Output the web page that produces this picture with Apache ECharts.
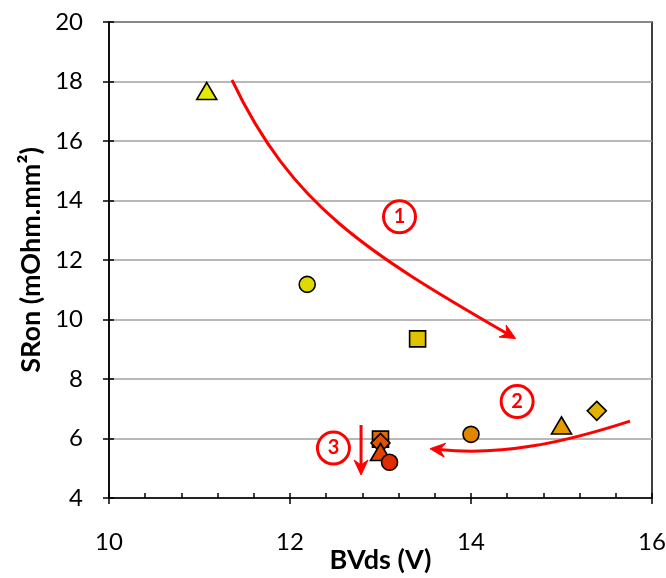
<!DOCTYPE html>
<html>
<head>
<meta charset="utf-8">
<script src="https://cdn.jsdelivr.net/npm/echarts@6/dist/echarts.min.js"></script>
<style>html,body{margin:0;padding:0;background:#fff}#c{width:666px;height:578px}</style>
</head>
<body>
<div id="c"></div>
<script>
// Data (BVds in V, SRon in mOhm.mm²)
const pointX = [11.08, 12.19, 13.41, 14.0, 15.0, 15.39, 13.0, 13.0, 13.0, 13.1];
const pointY = [17.68, 11.18, 9.35, 6.14, 6.44, 6.93, 5.98, 5.85, 5.55, 5.2];
const pointShape = ['triangle','circle','rect','circle','triangle','diamond','rect','diamond','triangle','circle'];
const pointColor = ['#E3EC00','#DEDA00','#E0C200','#E28600','#E49A00','#E2B200','#E06A00','#E05200','#E04400','#E02A00'];
const xTicks = [10, 12, 14, 16];
const yTicks = [4, 6, 8, 10, 12, 14, 16, 18, 20];
// Annotation arrows as cubic curves (start, control 1, control 2, end) in data units
const arrow1 = [[11.359,18.05],[12.022,13.815],[12.840,12.27],[14.464,9.41]];
const arrow2 = [[15.757,6.585],[15.021,5.859],[14.350,5.412],[13.580,5.647]];
const arrow3 = [[12.785,6.454],[12.785,6.0],[12.785,5.3],[12.785,4.874]];
const badgeText = ['1','2','3'];
const badgeX = [13.21, 14.51, 12.48];
const badgeY = [13.45, 7.24, 5.68];

const chart = echarts.init(document.getElementById('c'));
const FONT = 'Lato';
const RED = '#FF0000';
const sizeFor = s => s === 'triangle' ? [20,17] : s === 'diamond' ? 19 : 16;

function arrowSeries(a) {
  return {
    type:'custom', coordinateSystem:'cartesian2d', z:3, silent:true,
    data:[[a[0][0], a[0][1]]],
    renderItem: function(params, api) {
      const p = a.map(q => api.coord(q));
      const [p0,p1,p2,p3] = p;
      let dx = p3[0]-p2[0], dy = p3[1]-p2[1];
      const L = Math.hypot(dx,dy) || 1; dx/=L; dy/=L;
      const nx = -dy, ny = dx;
      const len = 15, hw = 7, notch = 10;
      const tip = [p3[0]+dx*3, p3[1]+dy*3];
      const back = [tip[0]-dx*len, tip[1]-dy*len];
      const mid = [tip[0]-dx*notch, tip[1]-dy*notch];
      const end = [tip[0]-dx*(notch-1), tip[1]-dy*(notch-1)];
      return {type:'group', children:[
        {type:'bezierCurve', shape:{x1:p0[0],y1:p0[1],cpx1:p1[0],cpy1:p1[1],cpx2:p2[0],cpy2:p2[1],x2:end[0],y2:end[1]},
          style:{stroke:RED, lineWidth:3, fill:null}},
        {type:'polygon', shape:{points:[tip,[back[0]+nx*hw, back[1]+ny*hw], mid, [back[0]-nx*hw, back[1]-ny*hw]]},
          style:{fill:RED, stroke:RED, lineWidth:1}}
      ]};
    }
  };
}

const series = [arrowSeries(arrow1), arrowSeries(arrow2), arrowSeries(arrow3)];
pointX.forEach((x,i) => {
  series.push({type:'scatter', z:5+i, data:[[x, pointY[i]]], symbol:pointShape[i],
    symbolSize:sizeFor(pointShape[i]),
    itemStyle:{color:pointColor[i], borderColor:'#000', borderWidth:1.6, opacity:1}});
});
series.push({type:'scatter', z:20, symbol:'circle', symbolSize:32,
  data: badgeX.map((x,i)=>({value:[x, badgeY[i]], name:badgeText[i]})),
  itemStyle:{color:'#fff', borderColor:RED, borderWidth:3, opacity:1},
  label:{show:true, position:'inside', formatter:p=>p.name, color:RED,
    fontFamily:FONT, fontWeight:'bold', fontSize:20}});

chart.setOption({
  animation:false,
  grid:{left:109, right:14, top:22, bottom:80, containLabel:false, outerBoundsMode:'none',
    show:true, borderColor:'#000', borderWidth:1.5},
  xAxis:[{type:'value', min:10, max:16, interval:2,
    name:'BVds (V)', nameLocation:'middle', nameGap:49, nameMoveOverlap:false,
    nameTextStyle:{fontFamily:FONT, fontWeight:'bold', fontSize:27, color:'#000'},
    axisLine:{show:true, lineStyle:{color:'#000', width:1.5}},
    axisTick:{show:true, inside:false, length:6, lineStyle:{color:'#000', width:1.5}},
    axisLabel:{margin:32, fontFamily:FONT, fontSize:24, color:'#000',
      formatter:v => xTicks.includes(v) ? String(v) : ''},
    splitLine:{show:false}},
   {type:'value', min:10, max:16, interval:0.4, position:'bottom',
    axisLine:{show:false}, axisLabel:{show:false}, splitLine:{show:false},
    axisTick:{show:true, inside:true, length:5, lineStyle:{color:'#000', width:1.5}}}],
  yAxis:[{type:'value', min:4, max:20, interval:2,
    name:'SRon (mOhm.mm²)', nameLocation:'middle', nameGap:64, nameMoveOverlap:false,
    nameTextStyle:{fontFamily:FONT, fontWeight:'bold', fontSize:27, color:'#000'},
    axisLine:{show:true, lineStyle:{color:'#000', width:1.5}},
    axisTick:{show:true, inside:false, length:6, lineStyle:{color:'#000', width:1.5}},
    axisLabel:{margin:26, fontFamily:FONT, fontSize:24, color:'#000',
      formatter:v => yTicks.includes(v) ? String(v) : ''},
    splitLine:{show:true, lineStyle:{color:'#A0A0A0', width:1.5}}},
   {type:'value', min:4, max:20, interval:2, position:'left',
    axisLine:{show:false}, axisLabel:{show:false}, splitLine:{show:false},
    axisTick:{show:true, inside:true, length:5, lineStyle:{color:'#000', width:1.5}}}],
  series: series
});
</script>
</body>
</html>
